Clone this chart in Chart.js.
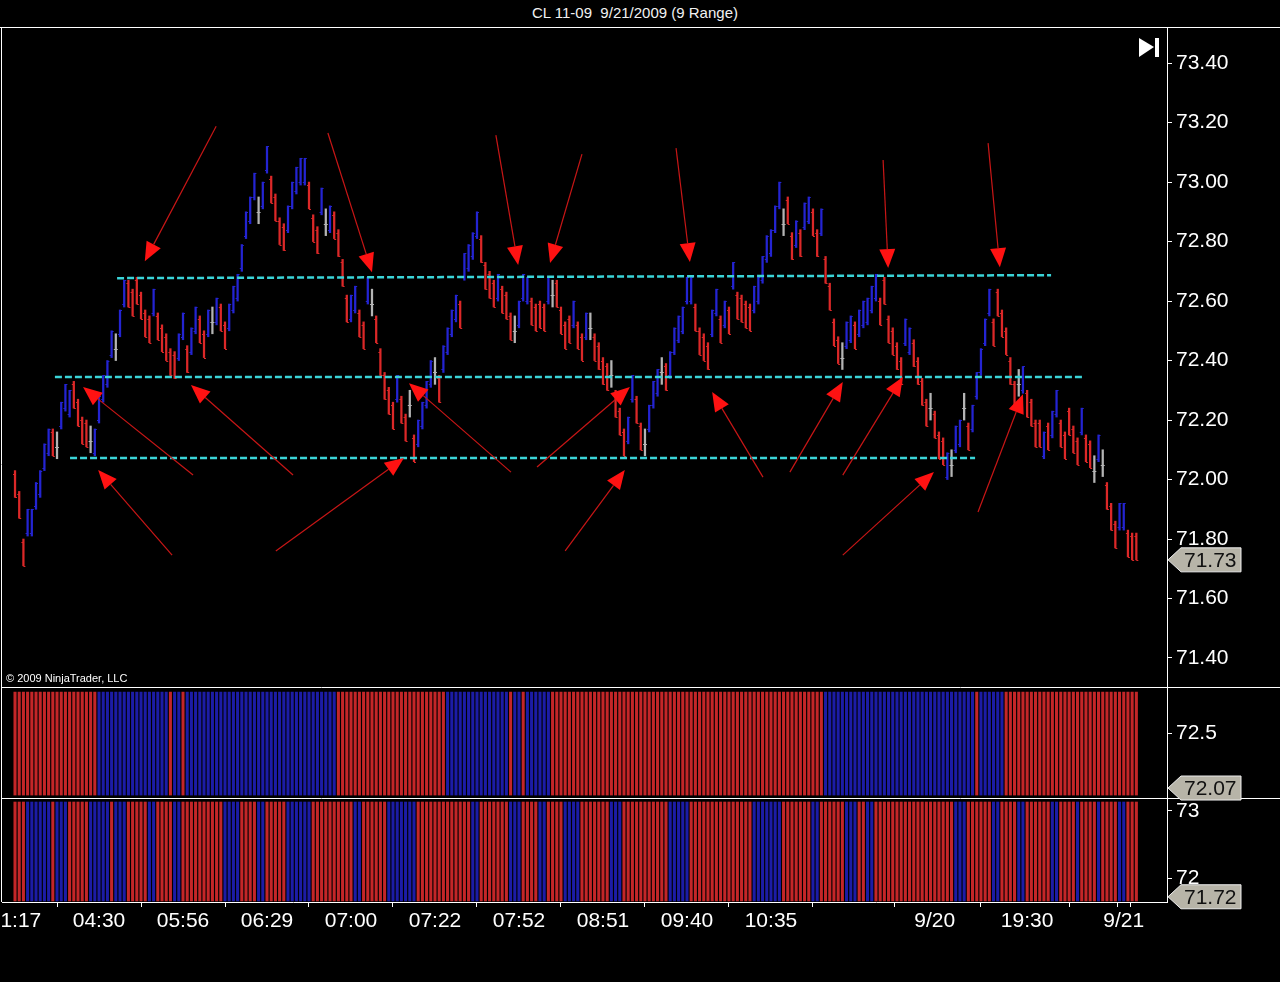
<!DOCTYPE html>
<html>
<head>
<meta charset="utf-8">
<script src="https://cdn.jsdelivr.net/npm/chart.js@4.4.0/dist/chart.umd.min.js"></script>
<style>
  body { margin: 0; background: #000; width: 1280px; height: 982px; overflow: hidden; position: relative;
         font-family: "Liberation Sans", Arial, sans-serif; }
  canvas { position: absolute; left: 0; }
  #title { position: absolute; top: 4px; left: 0; width: 1270px; text-align: center; color: #f2f2f2; font-size: 15px; }
</style>
</head>
<body>
<div id="title">CL 11-09&nbsp; 9/21/2009 (9 Range)</div>
<canvas id="main" width="1280" height="659" style="top:28px"></canvas>
<canvas id="osc1" width="1280" height="110" style="top:688px"></canvas>
<canvas id="osc2" width="1280" height="183" style="top:799px"></canvas>
<canvas id="deco" width="1280" height="982" style="top:0;z-index:5"></canvas>
<script>
// ---- data ----
const barRange = 0.09; // 9 tick range bars

// high of each range bar, oldest first
const highs = [
  72.03, 71.96, 71.80, 71.90, 71.90, 71.99, 72.03, 72.12, 72.17, 72.17,
  72.16, 72.26, 72.32, 72.30, 72.33, 72.27, 72.21, 72.20, 72.18, 72.17,
  72.28, 72.35, 72.40, 72.50, 72.49, 72.57, 72.67, 72.67, 72.64, 72.68,
  72.63, 72.57, 72.55, 72.64, 72.56, 72.52, 72.49, 72.44, 72.43, 72.49,
  72.56, 72.45, 72.51, 72.58, 72.55, 72.50, 72.57, 72.58, 72.61, 72.59,
  72.53, 72.59, 72.65, 72.69, 72.79, 72.90, 72.95, 73.03, 72.95, 73.00,
  73.12, 73.02, 72.96, 72.88, 72.86, 72.92, 73.00, 73.05, 73.08, 73.08,
  73.00, 72.89, 72.85, 72.98, 72.91, 72.92, 72.90, 72.84, 72.74, 72.62,
  72.62, 72.65, 72.57, 72.53, 72.68, 72.64, 72.55, 72.44, 72.36, 72.31,
  72.26, 72.35, 72.28, 72.22, 72.30, 72.15, 72.20, 72.26, 72.33, 72.40,
  72.41, 72.35, 72.45, 72.51, 72.57, 72.62, 72.60, 72.76, 72.79, 72.83,
  72.90, 72.82, 72.73, 72.70, 72.67, 72.69, 72.65, 72.63, 72.56, 72.55,
  72.60, 72.69, 72.68, 72.61, 72.59, 72.60, 72.59, 72.68, 72.67, 72.67,
  72.58, 72.53, 72.55, 72.60, 72.53, 72.49, 72.56, 72.56, 72.49, 72.46,
  72.41, 72.39, 72.40, 72.30, 72.24, 72.17, 72.21, 72.35, 72.28, 72.19,
  72.17, 72.25, 72.33, 72.37, 72.41, 72.39, 72.43, 72.51, 72.55, 72.58,
  72.68, 72.68, 72.59, 72.51, 72.49, 72.46, 72.57, 72.64, 72.55, 72.60,
  72.58, 72.73, 72.63, 72.62, 72.60, 72.59, 72.65, 72.68, 72.75, 72.82,
  72.84, 72.92, 73.00, 72.91, 72.95, 72.83, 72.87, 72.84, 72.93, 72.95,
  72.91, 72.84, 72.91, 72.75, 72.66, 72.54, 72.48, 72.46, 72.53, 72.55,
  72.53, 72.57, 72.60, 72.61, 72.65, 72.69, 72.61, 72.68, 72.55, 72.51,
  72.46, 72.41, 72.54, 72.51, 72.47, 72.41, 72.34, 72.27, 72.29, 72.23,
  72.16, 72.14, 72.09, 72.10, 72.18, 72.20, 72.29, 72.19, 72.25, 72.36,
  72.44, 72.54, 72.64, 72.54, 72.64, 72.57, 72.51, 72.41, 72.33, 72.37,
  72.38, 72.30, 72.27, 72.20, 72.20, 72.16, 72.19, 72.23, 72.30, 72.20,
  72.16, 72.24, 72.18, 72.14, 72.24, 72.15, 72.13, 72.08, 72.15, 72.10,
  71.99, 71.92, 71.86, 71.92, 71.92, 71.83, 71.82, 71.82
];

// B = up bar, R = down bar, G = open equals close
const barDirs = [
  "RRRBBBBBBR", "GBBBRRRRGB", "BBBBGBBRRR", "RRRBRRRRRB", "BRBBRRBGBR",
  "RBBBBBBBGB", "BRRRRBBBBB", "RRRBGBRRRR", "BBRRBGRRRR", "RBRRGRBBBB",
  "GRBBBBRBBB", "BRRRRBRRRG", "BBBRRRRBGR", "RRRBRRBGRR", "RRGRRRBBRR",
  "GBBBGRBBBB", "BBRRRRBBRB", "RBRRRRBBBB", "BBBGRRBRBB", "RRBRRRRGBB",
  "RBBBBBRRRR", "RRBBRRRRGR", "RRBGBBGRBB", "BBBRRRRRRG", "BRRRRBRBBR",
  "RRRRBRRGBG", "RRRBBRRR"
].join("");

// colour runs of the two indicator panels, [colour, number of bars]
const osc1Runs = [["r", 20], ["b", 17], ["r", 1], ["b", 2], ["r", 1], ["b", 36], ["r", 26],
  ["b", 15], ["r", 1], ["b", 2], ["r", 1], ["b", 6], ["r", 65], ["b", 36], ["r", 1], ["b", 6], ["r", 32]];
const osc2Runs = [["r", 3], ["b", 6], ["r", 1], ["b", 3], ["r", 5], ["b", 5], ["r", 1], ["b", 3],
  ["r", 5], ["b", 2], ["r", 4], ["b", 2], ["r", 10], ["b", 4], ["r", 4], ["b", 2], ["r", 5], ["b", 6],
  ["r", 10], ["b", 2], ["r", 6], ["b", 7], ["r", 13], ["b", 2], ["r", 7], ["b", 3], ["r", 4], ["b", 2],
  ["r", 4], ["b", 4], ["r", 7], ["b", 3], ["r", 11], ["b", 5], ["r", 15], ["b", 7], ["r", 7], ["b", 2],
  ["r", 6], ["b", 3], ["r", 2], ["b", 2], ["r", 19], ["b", 3], ["r", 6], ["b", 2], ["r", 4], ["b", 2],
  ["r", 6], ["b", 2], ["r", 4], ["b", 1], ["r", 4], ["b", 1], ["r", 4], ["b", 2], ["r", 3]];
const osc1Band = [72.015, 72.82];
const osc2Band = [71.657, 73.134];
const osc1Last = 72.07;
const osc2Last = 71.72;

// tick labels
const priceTicks = [71.40, 71.60, 71.80, 72.00, 72.20, 72.40, 72.60, 72.80, 73.00, 73.20, 73.40];
const osc1Ticks = [72.5];
const osc2Ticks = [72, 73];
const timeTickIdx = [0, 20, 40, 60, 80, 100, 120, 140, 160, 180, 200, 219, 241, 261, 264];
const timeLabels = ["01:17", "04:30", "05:56", "06:29", "07:00", "07:22", "07:52", "08:51",
  "09:40", "10:35", "", "9/20", "19:30", "", "9/21"];

// drawn objects, in [bar index, price]
const levelStart = [[24.3, 72.677], [9.5, 72.345], [13.1, 72.072]];
const levelEnd = [[246.7, 72.687], [254.5, 72.345], [228.6, 72.072]];
const arrowTails = [
  [47.9, 73.188], [74.5, 73.165], [114.5, 73.158], [135.0, 73.094], [157.4, 73.114], [206.7, 73.074],
  [231.7, 73.131], [42.4, 72.015], [66.2, 72.015], [118.1, 72.025], [124.3, 72.042], [178.1, 72.008],
  [184.5, 72.025], [197.1, 72.015], [229.3, 71.891], [37.4, 71.746], [62.1, 71.760], [131.0, 71.760],
  [197.1, 71.746]
];
const arrowTips = [
  [30.9, 72.734], [85.0, 72.697], [119.8, 72.721], [127.4, 72.728], [160.7, 72.731], [207.9, 72.711],
  [234.5, 72.714], [16.2, 72.311], [41.9, 72.318], [93.8, 72.324], [146.4, 72.311], [166.0, 72.294],
  [197.1, 72.328], [211.4, 72.345], [240.0, 72.287], [19.8, 72.032], [92.6, 72.072], [145.2, 72.032],
  [218.8, 72.025]
];

// ---- styling ----
const FONT = '"Liberation Sans", Arial, sans-serif';
const dirColor = { B: "#2424d2", R: "#dc2828", G: "#b4b4b4" };
const oscColor = { r: "#c42628", b: "#1c1ca6" };
const xMin = -3.1, xMax = 274.3;
Chart.defaults.font.family = FONT;
Chart.defaults.animation = false;

function expandRuns(runs) {
  const out = [];
  runs.forEach(([c, n]) => { for (let k = 0; k < n; k++) out.push(oscColor[c]); });
  return out;
}

function rightAxis(min, max, tickVals, digits) {
  return {
    position: "right", min: min, max: max,
    afterBuildTicks: s => { s.ticks = tickVals.map(v => ({ value: v })); },
    afterFit: s => { s.width = 113; s.paddingTop = 0; s.paddingBottom = 0; },
    grid: { drawOnChartArea: false, color: "#ffffff", tickLength: 5 },
    border: { color: "#ffffff" },
    ticks: { color: "#ffffff", font: { size: 21 }, padding: 4, callback: v => v.toFixed(digits) }
  };
}

function hiddenX() {
  return { type: "linear", min: xMin, max: xMax, display: false, offset: false };
}

// open / close nubs on the range bars
const ohlcTicks = {
  id: "ohlcTicks",
  afterDatasetDraw(chart, args) {
    if (args.index !== 0) return;
    const { ctx, scales: { x, y } } = chart;
    ctx.save();
    ctx.lineWidth = 1;
    highs.forEach((h, i) => {
      const d = barDirs[i];
      const lo = h - barRange;
      const open = d === "B" ? lo + 0.01 : d === "R" ? h - 0.01 : lo + 0.04;
      const close = d === "B" ? h : d === "R" ? lo : lo + 0.04;
      const px = x.getPixelForValue(i);
      ctx.strokeStyle = dirColor[d];
      ctx.beginPath();
      ctx.moveTo(px - 2, Math.round(y.getPixelForValue(open)) + 0.5);
      ctx.lineTo(px, Math.round(y.getPixelForValue(open)) + 0.5);
      ctx.moveTo(px, Math.round(y.getPixelForValue(close)) + 0.5);
      ctx.lineTo(px + 2, Math.round(y.getPixelForValue(close)) + 0.5);
      ctx.stroke();
    });
    ctx.restore();
  }
};

const arrowPlugin = {
  id: "arrows",
  afterDatasetsDraw(chart) {
    const { ctx, scales: { x, y } } = chart;
    ctx.save();
    arrowTails.forEach((t, k) => {
      const h = arrowTips[k];
      const x0 = x.getPixelForValue(t[0]), y0 = y.getPixelForValue(t[1]);
      const x1 = x.getPixelForValue(h[0]), y1 = y.getPixelForValue(h[1]);
      const a = Math.atan2(y1 - y0, x1 - x0);
      const len = 19, half = 8;
      const bx = x1 - len * Math.cos(a), by = y1 - len * Math.sin(a);
      ctx.strokeStyle = "#c81616";
      ctx.lineWidth = 1.2;
      ctx.beginPath(); ctx.moveTo(x0, y0); ctx.lineTo(bx, by); ctx.stroke();
      ctx.fillStyle = "#ff1212";
      ctx.beginPath();
      ctx.moveTo(x1, y1);
      ctx.lineTo(bx + half * Math.sin(a), by - half * Math.cos(a));
      ctx.lineTo(bx - half * Math.sin(a), by + half * Math.cos(a));
      ctx.closePath();
      ctx.fill();
    });
    ctx.restore();
  }
};

const common = {
  responsive: false,
  animation: false,
  plugins: { legend: { display: false }, tooltip: { enabled: false } },
  layout: { padding: { left: 2, right: 0, top: 0, bottom: 0 } }
};

// ---- main price panel ----
const levelSets = levelStart.map((s, k) => ({
  type: "line",
  data: [{ x: s[0], y: s[1] }, { x: levelEnd[k][0], y: levelEnd[k][1] }],
  borderColor: "#3ad4d8", borderWidth: 2.5, borderDash: [7, 3], pointRadius: 0, order: 1
}));

const mainChart = new Chart(document.getElementById("main"), {
  type: "bar",
  data: {
    datasets: [{
      data: highs.map((h, i) => ({ x: i, y: [h - barRange, h] })),
      backgroundColor: highs.map((h, i) => dirColor[barDirs[i]]),
      barThickness: 1.6, borderWidth: 0, order: 2
    }, ...levelSets]
  },
  options: Object.assign({}, common, {
    scales: { x: hiddenX(), y: rightAxis(71.3025, 73.518, priceTicks, 2) }
  }),
  plugins: [ohlcTicks, arrowPlugin]
});

// ---- indicator panel 1 ----
const osc1Colors = expandRuns(osc1Runs);
const osc1Chart = new Chart(document.getElementById("osc1"), {
  type: "bar",
  data: {
    datasets: [{
      data: osc1Colors.map((c, i) => ({ x: i, y: osc1Band })),
      backgroundColor: osc1Colors, barThickness: 2.4, borderWidth: 0
    }]
  },
  options: Object.assign({}, common, {
    scales: { x: hiddenX(), y: rightAxis(71.992, 72.852, osc1Ticks, 1) }
  })
});

// ---- indicator panel 2 with the time axis ----
const osc2Colors = expandRuns(osc2Runs);
const osc2Chart = new Chart(document.getElementById("osc2"), {
  type: "bar",
  data: {
    datasets: [{
      data: osc2Colors.map((c, i) => ({ x: i, y: osc2Band })),
      backgroundColor: osc2Colors, barThickness: 2.4, borderWidth: 0
    }]
  },
  options: Object.assign({}, common, {
    scales: {
      x: {
        type: "linear", min: xMin, max: xMax, offset: false,
        afterBuildTicks: s => { s.ticks = timeTickIdx.map(v => ({ value: v })); },
        afterFit: s => { s.height = 80; s.paddingLeft = 0; s.paddingRight = 0; },
        grid: { drawOnChartArea: false, color: "#ffffff", tickLength: 5 },
        border: { color: "#ffffff" },
        ticks: {
          color: "#ffffff", font: { size: 21 }, padding: 2, maxRotation: 0, autoSkip: false,
          callback: v => timeLabels[timeTickIdx.indexOf(v)]
        }
      },
      y: rightAxis(71.642, 73.179, osc2Ticks, 0)
    }
  })
});

// ---- frame, value chips and captions ----
const deco = document.getElementById("deco").getContext("2d");
deco.strokeStyle = "#ffffff";
deco.lineWidth = 1;
function hline(y, x0, x1) { deco.beginPath(); deco.moveTo(x0, y); deco.lineTo(x1, y); deco.stroke(); }
hline(27.5, 0, 1280);
hline(687.5, 2, 1280);
hline(798.5, 2, 1280);
deco.beginPath(); deco.moveTo(1.5, 27); deco.lineTo(1.5, 902); deco.stroke();

function chip(yc, text) {
  deco.beginPath();
  deco.moveTo(1168, yc);
  deco.lineTo(1181, yc - 12);
  deco.lineTo(1241, yc - 12);
  deco.lineTo(1241, yc + 12);
  deco.lineTo(1181, yc + 12);
  deco.closePath();
  deco.fillStyle = "#b7b4a8";
  deco.fill();
  deco.strokeStyle = "#ececec";
  deco.stroke();
  deco.fillStyle = "#111111";
  deco.font = "21px " + FONT;
  deco.textBaseline = "middle";
  deco.fillText(text, 1184, yc + 1);
}
const lastClose = highs[highs.length - 1] - barRange;
chip(28 + mainChart.scales.y.getPixelForValue(lastClose), lastClose.toFixed(2));
chip(688 + osc1Chart.scales.y.getPixelForValue(osc1Last), osc1Last.toFixed(2));
chip(799 + osc2Chart.scales.y.getPixelForValue(osc2Last), osc2Last.toFixed(2));

// "go to last bar" button
deco.fillStyle = "#ffffff";
deco.beginPath(); deco.moveTo(1139, 38); deco.lineTo(1154, 47); deco.lineTo(1139, 57); deco.closePath(); deco.fill();
deco.fillRect(1155, 38, 4, 19);

deco.font = "11px " + FONT;
deco.textBaseline = "alphabetic";
deco.fillText("\u00a9 2009 NinjaTrader, LLC", 6, 682);
</script>
</body>
</html>
